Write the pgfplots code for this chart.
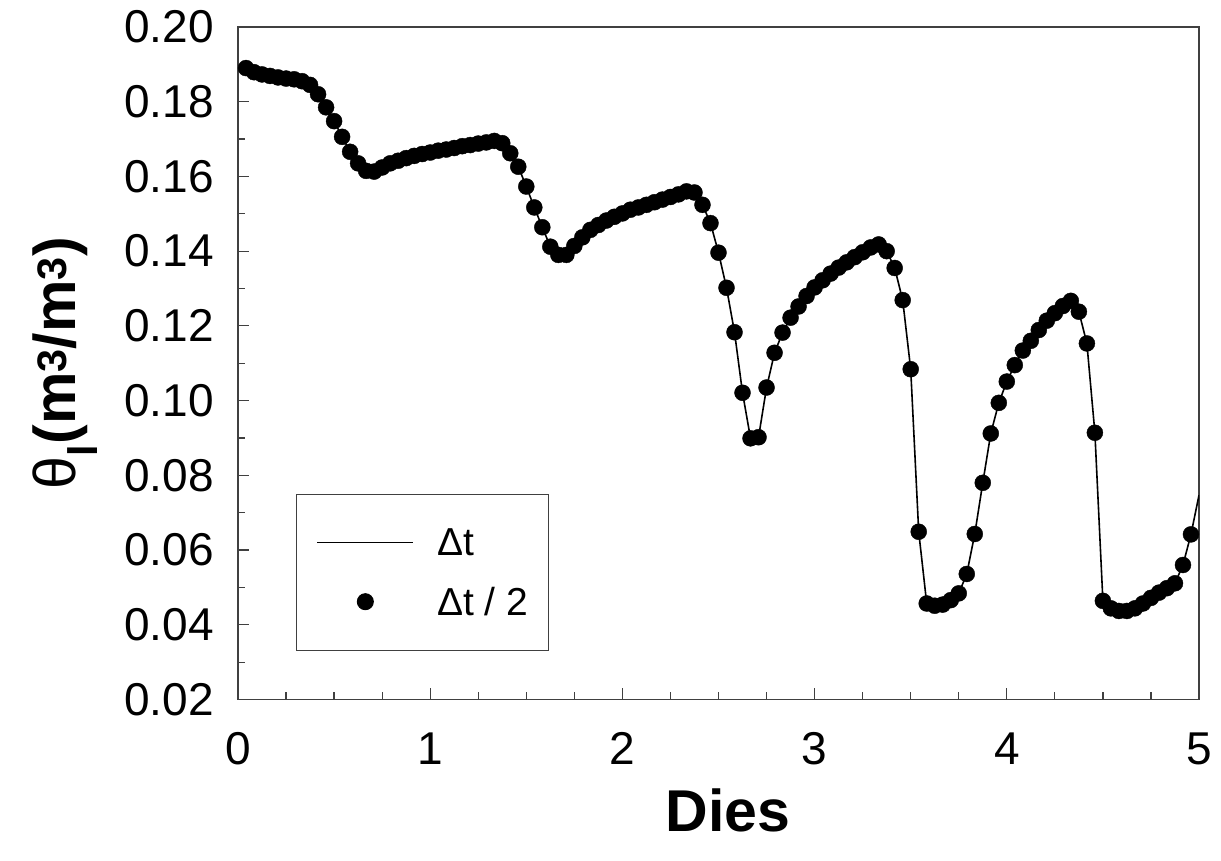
\documentclass[border=0pt]{standalone}
\usepackage{fontspec}
\setmainfont{Liberation Sans}
\usepackage{pgfplots}
\usepackage{pgfplotstable}
\pgfplotsset{compat=1.18}

% k = hour index (x = k/24 days), y = theta_l
\pgfplotstableread{
k y
1 0.1890
2 0.1879
3 0.1873
4 0.1869
5 0.1865
6 0.1862
7 0.1860
8 0.1855
9 0.1845
10 0.1820
11 0.1785
12 0.1748
13 0.1706
14 0.1666
15 0.1635
16 0.1615
17 0.1613
18 0.1624
19 0.1635
20 0.1642
21 0.1649
22 0.1655
23 0.1660
24 0.1664
25 0.1669
26 0.1672
27 0.1676
28 0.1681
29 0.1684
30 0.1688
31 0.1691
32 0.1695
33 0.1689
34 0.1662
35 0.1626
36 0.1573
37 0.1517
38 0.1464
39 0.1412
40 0.1390
41 0.1390
42 0.1414
43 0.1437
44 0.1457
45 0.1470
46 0.1482
47 0.1492
48 0.1501
49 0.1511
50 0.1517
51 0.1524
52 0.1531
53 0.1538
54 0.1545
55 0.1552
56 0.1560
57 0.1557
58 0.1524
59 0.1475
60 0.1396
61 0.1302
62 0.1183
63 0.1021
64 0.0899
65 0.0902
66 0.1035
67 0.1128
68 0.1182
69 0.1222
70 0.1252
71 0.1280
72 0.1303
73 0.1322
74 0.1340
75 0.1356
76 0.1370
77 0.1384
78 0.1397
79 0.1410
80 0.1418
81 0.1400
82 0.1355
83 0.1269
84 0.1084
85 0.0649
86 0.0457
87 0.0451
88 0.0454
89 0.0466
90 0.0484
91 0.0536
92 0.0643
93 0.0780
94 0.0912
95 0.0994
96 0.1051
97 0.1095
98 0.1134
99 0.1160
100 0.1189
101 0.1214
102 0.1234
103 0.1253
104 0.1267
105 0.1238
106 0.1153
107 0.0914
108 0.0464
109 0.0444
110 0.0437
111 0.0437
112 0.0444
113 0.0457
114 0.0472
115 0.0486
116 0.0498
117 0.0511
118 0.0560
119 0.0642
120 0.0747
}\datatable

\begin{document}
\begin{tikzpicture}
\useasboundingbox (-238pt,-161.5pt) rectangle (983pt,699.5pt);
\begin{axis}[
  at={(0,0)}, anchor=south west,
  scale only axis, width=961pt, height=672.5pt,
  xmin=0, xmax=5, ymin=0.02, ymax=0.20,
  xtick={0,1,2,3,4,5}, minor x tick num=3,
  ytick={0.02,0.04,0.06,0.08,0.10,0.12,0.14,0.16,0.18,0.20}, minor y tick num=1,
  xtick pos=left, ytick pos=left,
  tick align=inside,
  major tick length=11pt, minor tick length=7pt,
  every tick/.style={black!75, line width=1.2pt},
  axis line style={black!75, line width=1.3pt},
  /pgf/number format/assume math mode=true,
  y tick label style={/pgf/number format/fixed, /pgf/number format/fixed zerofill, /pgf/number format/precision=2},
  tick label style={font=\fontsize{46}{46}\selectfont, inner sep=0pt},
  yticklabel style={xshift=-24pt},
  xticklabel style={yshift=-33pt},
  every axis x label/.style={at={(axis description cs:0.51,-0.197)}, anchor=base, inner sep=0pt},
  every axis y label/.style={at={(axis description cs:-0.1686,0.5)}, rotate=90, anchor=base, inner sep=0pt},
  label style={font=\fontsize{59}{59}\selectfont\bfseries},
  xlabel={Dies},
  ylabel={{\mdseries θ}\textsubscript{l}(m\textsuperscript{3}/m\textsuperscript{3})},
  legend style={at={(axis description cs:0.0604,0.3056)}, anchor=north west,
    draw=black!75, line width=1pt, inner xsep=20pt, inner ysep=34pt,
    font=\fontsize{39}{39}\selectfont, row sep=30pt, column sep=23pt,
    nodes={inner sep=0pt}},
  legend cell align=left,
  legend image code/.code={\draw[mark repeat=2,mark phase=2] plot coordinates {(0pt,0pt) (48pt,0pt) (96pt,0pt)};},
]
\addplot[black, line width=1.6pt, no marks] table[x expr=\thisrow{k}/24, y=y] {\datatable};
\addlegendentry{Δt}
\addplot[only marks, mark=*, mark size=8pt, black, fill=black,
  skip coords between index={119}{120}] table[x expr=\thisrow{k}/24, y=y] {\datatable};
\addlegendentry{Δt / 2}
\end{axis}
\end{tikzpicture}
\end{document}
